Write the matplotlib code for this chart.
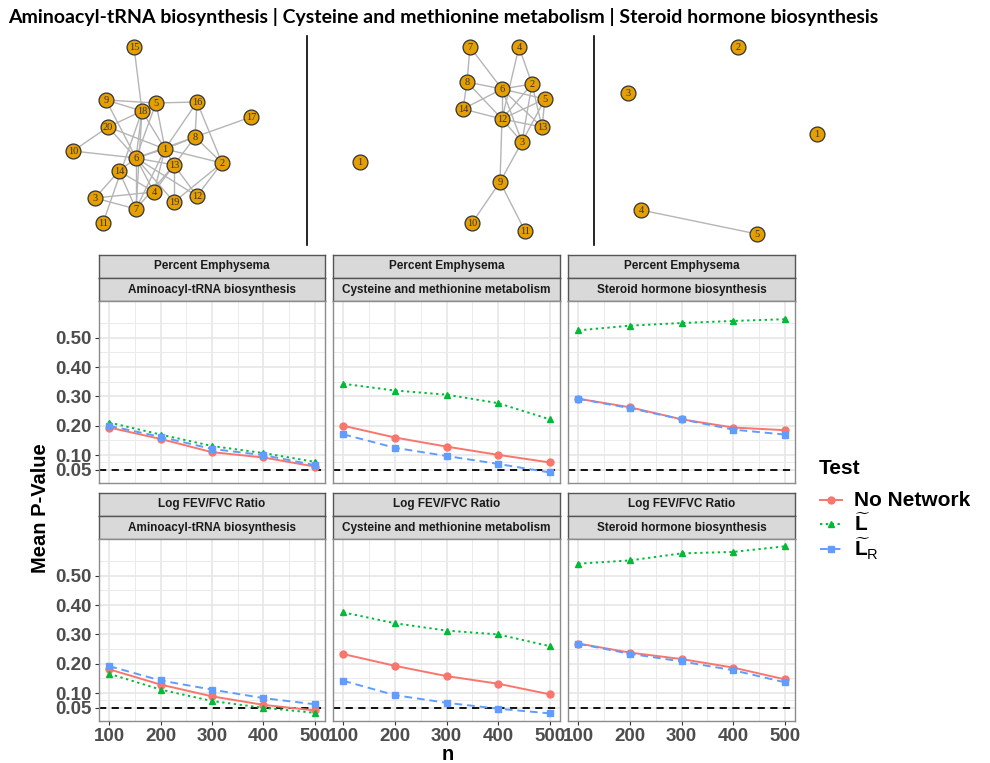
import numpy as np
import matplotlib
matplotlib.use('Agg')
import matplotlib.pyplot as plt

plt.rcParams['font.family'] = ['Liberation Sans', 'DejaVu Sans']
plt.rcParams['mathtext.fontset'] = 'custom'
plt.rcParams['mathtext.rm'] = 'Liberation Sans'
plt.rcParams['mathtext.bf'] = 'Liberation Sans:bold'

W, H = 990, 763

# ---- data ----
n = [100, 200, 300, 400, 500]
outcomes = ['Percent Emphysema', 'Log FEV/FVC Ratio']
pathways = ['Aminoacyl-tRNA biosynthesis', 'Cysteine and methionine metabolism',
            'Steroid hormone biosynthesis']

# mean p-values, one list per pathway (Percent Emphysema)
pe_nonet = [[0.194, 0.155, 0.110, 0.092, 0.061],
            [0.200, 0.160, 0.129, 0.101, 0.075],
            [0.292, 0.263, 0.222, 0.194, 0.185]]
pe_L = [[0.211, 0.170, 0.131, 0.107, 0.077],
        [0.343, 0.320, 0.306, 0.277, 0.222],
        [0.525, 0.541, 0.550, 0.557, 0.563]]
pe_LR = [[0.200, 0.162, 0.121, 0.100, 0.066],
         [0.171, 0.125, 0.097, 0.070, 0.041],
         [0.292, 0.260, 0.222, 0.187, 0.170]]
# Log FEV/FVC Ratio
fev_nonet = [[0.181, 0.129, 0.089, 0.060, 0.041],
             [0.233, 0.193, 0.158, 0.132, 0.096],
             [0.269, 0.238, 0.216, 0.187, 0.147]]
fev_L = [[0.166, 0.112, 0.073, 0.050, 0.033],
         [0.375, 0.338, 0.313, 0.300, 0.260],
         [0.541, 0.552, 0.576, 0.581, 0.600]]
fev_LR = [[0.192, 0.143, 0.112, 0.083, 0.062],
          [0.142, 0.093, 0.067, 0.047, 0.031],
          [0.268, 0.234, 0.208, 0.178, 0.137]]

series = {'Percent Emphysema': [pe_nonet, pe_L, pe_LR],
          'Log FEV/FVC Ratio': [fev_nonet, fev_L, fev_LR]}

test_labels = ['No Network', r'$\widetilde{\mathbf{L}}$', r'$\widetilde{\mathbf{L}}_{\mathrm{R}}$']
colors = ['#F8766D', '#00BA38', '#619CFF']
markers = ['o', '^', 's']
styles = ['-', (0, (1.2, 1.8)), (0, (4, 2.5))]

# network layouts (node label, x, y) and edges
net1_nodes = [15, 9, 18, 5, 16, 17, 20, 8, 10, 1, 6, 13, 2, 14, 4, 12, 19, 3, 7, 11]
net1_x = [134, 106, 142, 156, 197, 251, 108, 195, 73, 165, 136, 174, 222, 119, 154, 197, 174, 95, 136, 103]
net1_y = [47, 100, 111, 103, 102, 117, 127, 137, 151, 149, 158, 165, 163, 171, 192, 196, 202, 198, 209, 223]
net1_edges = [(15, 18), (9, 18), (9, 5), (9, 6), (18, 20), (18, 6), (18, 7), (18, 1), (18, 11),
              (5, 16), (5, 1), (5, 6), (16, 8), (16, 2), (16, 1), (17, 8), (8, 1), (8, 6), (8, 2),
              (8, 4), (20, 10), (20, 1), (20, 6), (10, 6), (1, 6), (1, 2), (1, 13), (1, 4), (1, 7),
              (6, 13), (6, 4), (6, 19), (6, 12), (6, 7), (6, 14), (13, 19), (13, 12), (13, 7),
              (2, 19), (2, 12), (14, 3), (14, 4), (14, 7), (3, 4), (3, 7)]

net2_nodes = [7, 4, 8, 6, 2, 5, 14, 12, 13, 3, 1, 9, 10, 11]
net2_x = [470, 519, 467, 502, 532, 545, 463, 502, 542, 522, 360, 500, 472, 525]
net2_y = [47, 47, 82, 89, 84, 99, 109, 119, 127, 142, 162, 182, 223, 231]
net2_edges = [(7, 8), (7, 6), (4, 12), (4, 2), (8, 6), (8, 14), (8, 12), (6, 2), (6, 14), (6, 12),
              (6, 5), (6, 13), (6, 3), (2, 12), (2, 3), (2, 13), (5, 12), (5, 13), (5, 3),
              (14, 12), (12, 13), (12, 3), (12, 9), (3, 9), (9, 10), (9, 11)]

net3_nodes = [2, 3, 1, 4, 5]
net3_x = [738, 628, 817, 641, 757]
net3_y = [47, 93, 134, 210, 234]
net3_edges = [(4, 5)]

title = ('Aminoacyl-tRNA biosynthesis | Cysteine and methionine metabolism | '
         'Steroid hormone biosynthesis')


def box(x0, y0, x1, y1):
    return [x0 / W, 1 - y1 / H, (x1 - x0) / W, (y1 - y0) / H]


fig = plt.figure(figsize=(W / 100, H / 100), dpi=100)

# ---- top: networks ----
ov = fig.add_axes([0, 0, 1, 1])
ov.set_xlim(0, W)
ov.set_ylim(H, 0)
ov.axis('off')

for nodes, xs, ys, edges in [(net1_nodes, net1_x, net1_y, net1_edges),
                             (net2_nodes, net2_x, net2_y, net2_edges),
                             (net3_nodes, net3_x, net3_y, net3_edges)]:
    pos = {k: (x, y) for k, x, y in zip(nodes, xs, ys)}
    for a, b in edges:
        ov.plot([pos[a][0], pos[b][0]], [pos[a][1], pos[b][1]], color='#B5B5B5', lw=1.0, zorder=1)
    ov.scatter(xs, ys, s=115, color='#E69F00', edgecolor='#333333', linewidth=0.9, zorder=2)
    for k, x, y in zip(nodes, xs, ys):
        ov.text(x, y + 0.5, str(k), ha='center', va='center', fontsize=7.5,
                family='Liberation Serif', color='#333333', zorder=3)

for xsep in [307, 594]:
    ov.plot([xsep, xsep], [36, 245], color='black', lw=1.2)

fig.text(8 / W, 1 - 17 / H, title, fontsize=14, fontweight='bold', family='Lato',
         ha='left', va='center')

# ---- facets ----
cols = [(99, 325), (333, 560), (568, 795)]
rows = [(255, 278, 301, 483), (493, 516, 539, 721)]

for r, outcome in enumerate(outcomes):
    s0, s1, p0, p1 = rows[r]
    for c, pathway in enumerate(pathways):
        x0, x1 = cols[c]
        for (a, b, label) in [(s0, s1, outcome), (s1, p0, pathway)]:
            sax = fig.add_axes(box(x0, a, x1, b))
            sax.set_facecolor('#D9D9D9')
            sax.set_xticks([])
            sax.set_yticks([])
            for sp in sax.spines.values():
                sp.set_color('#555555')
                sp.set_linewidth(1.0)
            sax.text(0.5, 0.5, label, transform=sax.transAxes, ha='center', va='center',
                     fontsize=8.5, fontweight='bold', color='#1A1A1A')

        ax = fig.add_axes(box(x0, p0, x1, p1))
        for i in range(3):
            ax.plot(n, series[outcome][i][c], color=colors[i], marker=markers[i],
                    linestyle=styles[i], lw=1.4, markersize=5, zorder=3)
        ax.axhline(0.05, color='black', lw=1.3, linestyle=(0, (4, 3)), zorder=2)
        ax.set_xlim(80, 520)
        ax.set_ylim(0.005, 0.625)
        ax.set_xticks(n)
        ax.set_xticks([150, 250, 350, 450], minor=True)
        ax.set_yticks([0.05, 0.1, 0.2, 0.3, 0.4, 0.5])
        ax.set_yticks([0.075, 0.15, 0.25, 0.35, 0.45, 0.55], minor=True)
        ax.grid(which='major', color='#E6E6E6', lw=1.2)
        ax.grid(which='minor', color='#EBEBEB', lw=0.7)
        ax.set_axisbelow(True)
        ax.tick_params(which='minor', length=0)
        ax.tick_params(which='major', length=3, width=0.8, color='#333333',
                       labelsize=13.5, labelcolor='#4D4D4D', pad=2)
        for sp in ax.spines.values():
            sp.set_color('#8C8C8C')
            sp.set_linewidth(1.0)
        if c == 0:
            ax.set_yticklabels(['0.05', '0.10', '0.20', '0.30', '0.40', '0.50'], fontweight='bold')
        else:
            ax.tick_params(axis='y', length=0, labelleft=False)
        if r == 1:
            ax.set_xticklabels([str(v) for v in n], fontweight='bold')
        else:
            ax.tick_params(axis='x', length=0, labelbottom=False)

fig.text(40 / W, 1 - 508 / H, 'Mean P-Value', rotation=90, fontsize=14.5, fontweight='bold',
         ha='center', va='center')
fig.text(448 / W, 1 - 755 / H, 'n', fontsize=14.5, fontweight='bold', ha='center', va='center')

# ---- legend ----
ov.text(819, 468, 'Test', fontsize=15, fontweight='bold', ha='left', va='center')
for i, yy in enumerate([500, 524, 549]):
    ov.plot([820, 842], [yy, yy], color=colors[i], linestyle=styles[i], lw=1.4)
    ov.plot([831], [yy], color=colors[i], marker=markers[i], markersize=5)
    ov.text(854, yy, test_labels[i], fontsize=15, fontweight='bold', ha='left', va='center')

fig.savefig('out.png', dpi=100)
